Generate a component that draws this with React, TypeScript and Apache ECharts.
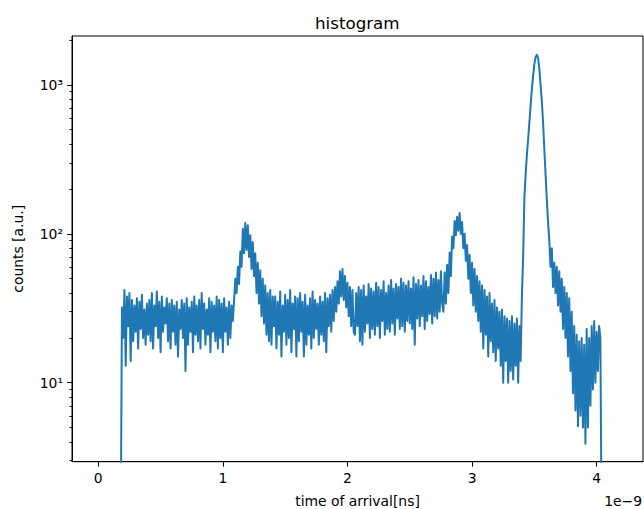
import React, { useEffect, useRef } from 'react';
import * as echarts from 'echarts';

// Histogram of arrival times (x in ns, shown with a 1e-9 offset as in the source plot)
const BIN_WIDTH = 0.01;
const EMPTY_BINS: [number, number][] = [[0.18, 1], [4.04, 1]]; // empty edge bins, below the axis floor

// 0.19 – 1.08 ns: flat background
const countsBaseline = [
  32, 20, 42, 13, 38, 24, 40, 14, 36, 19,
  33, 22, 37, 17, 35, 23, 39, 20, 31, 18,
  34, 21, 36, 19, 40, 17, 33, 24, 41, 20,
  35, 16, 38, 22, 32, 25, 37, 19, 34, 17,
  36, 22, 33, 18, 35, 15, 31, 23, 36, 20,
  34, 12, 37, 18, 32, 22, 35, 16, 38, 21,
  33, 19, 36, 17, 40, 23, 34, 18, 31, 21,
  37, 16, 35, 22, 33, 19, 38, 17, 36, 20,
  34, 16, 37, 22, 32, 18, 35, 20, 33, 26,
];
// 1.09 – 1.40 ns: first peak
const countsPeak1 = [
  36, 50, 40, 60, 46, 76, 60, 108, 74, 118,
  78, 114, 70, 98, 58, 88, 52, 74, 40, 64,
  34, 57, 28, 50, 25, 45, 21, 40, 19, 42,
  18, 38,
];
// 1.41 – 1.90 ns
const countsFlat2 = [
  24, 38, 17, 35, 21, 41, 15, 33, 22, 39,
  18, 36, 20, 42, 16, 34, 23, 38, 15, 37,
  19, 40, 22, 35, 15, 39, 18, 33, 21, 37,
  17, 41, 20, 36, 23, 34, 18, 38, 21, 35,
  19, 40, 16, 37, 24, 39, 22, 42, 26, 44,
];
// 1.91 – 2.05 ns: small bump
const countsBump = [30, 48, 34, 56, 38, 58, 36, 52, 32, 47, 28, 44, 24, 42, 22];
// 2.06 – 2.76 ns
const countsFlat3 = [
  21, 40, 24, 44, 19, 42, 18, 45, 22, 38,
  25, 46, 20, 43, 23, 41, 21, 47, 24, 44,
  20, 42, 26, 48, 21, 40, 23, 45, 22, 49,
  25, 43, 21, 46, 27, 44, 23, 50, 24, 47,
  22, 45, 26, 48, 25, 43, 23, 51, 18, 46,
  27, 49, 24, 45, 28, 52, 23, 48, 26, 44,
  29, 53, 25, 50, 28, 55, 27, 49, 30, 56,
  34,
];
// 2.77 – 3.39 ns: second peak and its decay
const countsPeak2 = [
  30, 55, 34, 62, 40, 75, 52, 96, 80, 122,
  98, 130, 105, 138, 100, 120, 80, 100, 66, 84,
  50, 72, 40, 64, 33, 58, 30, 52, 26, 48,
  22, 45, 17, 42, 21, 38, 15, 40, 19, 34,
  16, 36, 14, 32, 17, 30, 13, 31, 10, 28,
  14, 27, 10, 26, 12, 28, 10.5, 25, 13, 27,
  10, 24, 14,
];
// 3.40 – 3.62 ns: main peak
const countsMain = [
  38, 70, 175, 250, 340, 430, 560, 730, 940, 1150,
  1380, 1540, 1590, 1510, 1280, 1000, 780, 560, 370, 250,
  170, 120, 90,
];
// 3.63 – 4.03 ns: tail
const countsTail = [
  60, 80, 44, 64, 40, 60, 33, 56, 30, 50,
  23, 44, 20, 40, 15, 37, 12, 30, 8.5, 24,
  6.5, 21, 5.1, 19, 6, 20, 5, 18, 3.9, 23,
  5, 20, 7, 24, 9, 26, 10, 22, 12, 24,
  20,
];

const segmentStarts = [0.19, 1.09, 1.41, 1.91, 2.06, 2.77, 3.40, 3.63];
const segmentCounts = [countsBaseline, countsPeak1, countsFlat2, countsBump, countsFlat3, countsPeak2, countsMain, countsTail];

const xTicks = [0, 1, 2, 3, 4];
const yMajorTicks = [10, 100, 1000];
const yMinorTicks = [3, 4, 5, 6, 7, 8, 9, 20, 30, 40, 50, 60, 70, 80, 90, 200, 300, 400, 500, 600, 700, 800, 900, 2000];

const FONT = 'DejaVu Sans';
const SUP: Record<string, string> = { '0': '⁰', '1': '¹', '2': '²', '3': '³' };

function buildData(): [number, number][] {
  const out: [number, number][] = [EMPTY_BINS[0]];
  segmentCounts.forEach((counts, s) => {
    counts.forEach((c, i) => {
      out.push([+(segmentStarts[s] + i * BIN_WIDTH).toFixed(2), c]);
    });
  });
  out.push(EMPTY_BINS[1]);
  return out;
}

export default function App() {
  const ref = useRef<HTMLDivElement>(null);
  useEffect(() => {
    document.body.style.margin = '0';
    const chart = echarts.init(ref.current!, undefined, { renderer: 'svg' });
    chart.setOption({
      animation: false,
      backgroundColor: '#fff',
      title: {
        text: 'histogram',
        left: 310,
        top: 9,
        textStyle: { fontFamily: FONT, fontSize: 16.7, fontWeight: 'normal', color: '#000' },
      },
      grid: {
        left: 72, top: 36, right: 1, bottom: 47.3,
        outerBoundsMode: 'none',
        containLabel: false,
        show: true, borderColor: '#000', borderWidth: 1, backgroundColor: 'transparent',
      },
      xAxis: {
        type: 'value',
        min: -0.211,
        max: 4.372,
        name: 'time of arrival[ns]',
        nameLocation: 'middle',
        nameGap: 32,
        nameTextStyle: { fontFamily: FONT, fontSize: 13.9, color: '#000' },
        axisLine: { show: true, onZero: false, lineStyle: { color: '#000', width: 1 } },
        axisTick: { show: true, customValues: xTicks, length: 4.9, lineStyle: { color: '#000', width: 1 } },
        axisLabel: { customValues: xTicks, margin: 9, fontFamily: FONT, fontSize: 13.9, color: '#000' },
        splitLine: { show: false },
      },
      yAxis: [
        {
          type: 'log',
          logBase: 10,
          min: 2.95,
          max: 2130,
          name: 'counts [a.u.]',
          nameLocation: 'middle',
          nameGap: 47,
          nameTextStyle: { fontFamily: FONT, fontSize: 13.9, color: '#000' },
          axisLine: { show: true, onZero: false, lineStyle: { color: '#000', width: 1 } },
          axisTick: { show: true, customValues: yMajorTicks, length: 4.9, lineStyle: { color: '#000', width: 1 } },
          axisLabel: {
            customValues: yMajorTicks,
            margin: 9,
            fontFamily: FONT,
            fontSize: 13.9,
            color: '#000',
            formatter: (v: number) => '10' + String(Math.round(Math.log10(v))).split('').map((d) => SUP[d] ?? d).join(''),
          },
          splitLine: { show: false },
        },
        {
          type: 'log',
          logBase: 10,
          min: 2.95,
          max: 2130,
          position: 'left',
          axisLine: { show: false, onZero: false },
          axisTick: { show: true, customValues: yMinorTicks, length: 2.8, lineStyle: { color: '#000', width: 0.8 } },
          axisLabel: { show: false },
          splitLine: { show: false },
        },
      ],
      graphic: [
        {
          type: 'text',
          right: 2,
          top: 494,
          style: { text: '1e\u22129', font: `13.9px "${FONT}"`, fill: '#000' },
        },
      ],
      series: [
        {
          type: 'line',
          data: buildData(),
          yAxisIndex: 0,
          symbol: 'none',
          lineStyle: { color: '#1f77b4', width: 2, join: 'round' },
          itemStyle: { color: '#1f77b4' },
          clip: true,
        },
      ],
    });
    return () => chart.dispose();
  }, []);
  return <div ref={ref} style={{ width: 644, height: 509 }} />;
}
